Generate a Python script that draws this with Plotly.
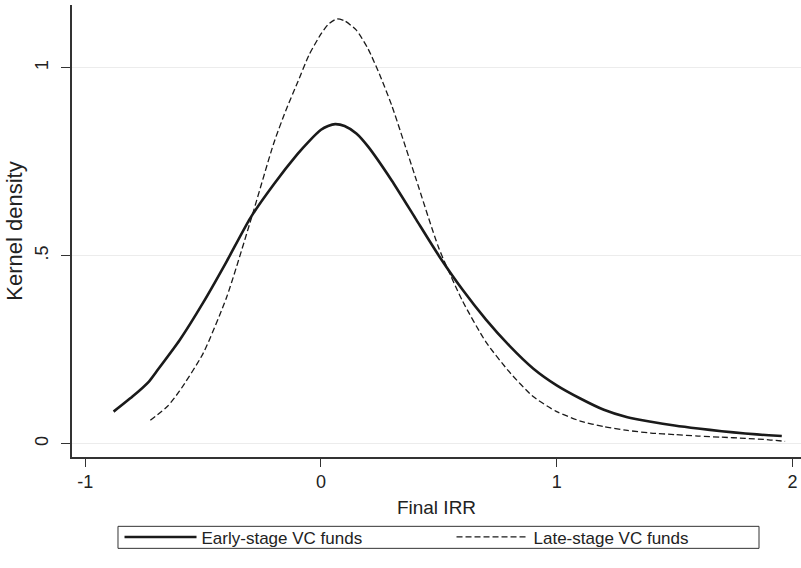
import plotly.graph_objects as go

# Early-stage VC funds (solid)
early_x = [-0.88, -0.80, -0.73, -0.70, -0.60, -0.50, -0.40, -0.30, -0.20, -0.10,
           -0.05, 0.00, 0.03, 0.06, 0.10, 0.15, 0.20, 0.30, 0.40, 0.50, 0.60, 0.70, 0.80,
           0.90, 1.00, 1.10, 1.20, 1.30, 1.40, 1.50, 1.60, 1.70, 1.80, 1.90, 1.955]
early_y = [0.085, 0.125, 0.165, 0.19, 0.275, 0.375, 0.485, 0.60, 0.69, 0.77,
           0.805, 0.835, 0.845, 0.85, 0.845, 0.825, 0.79, 0.70, 0.60, 0.50, 0.41, 0.33, 0.26,
           0.20, 0.155, 0.12, 0.09, 0.07, 0.058, 0.048, 0.040, 0.033, 0.027, 0.022, 0.020]

# Late-stage VC funds (dashed)
late_x = [-0.724, -0.65, -0.60, -0.50, -0.40, -0.30, -0.20, -0.15, -0.10, -0.05, 0.00, 0.03, 0.067,
          0.10, 0.15, 0.20, 0.25, 0.30, 0.40, 0.50, 0.60, 0.70, 0.80, 0.90, 1.00,
          1.10, 1.20, 1.30, 1.40, 1.50, 1.60, 1.70, 1.80, 1.90, 1.969]
late_y = [0.062, 0.10, 0.14, 0.24, 0.39, 0.59, 0.80, 0.885, 0.96, 1.035, 1.09, 1.115, 1.13,
          1.125, 1.10, 1.05, 0.98, 0.90, 0.71, 0.52, 0.38, 0.27, 0.19, 0.125, 0.085,
          0.06, 0.045, 0.035, 0.028, 0.024, 0.020, 0.017, 0.014, 0.010, 0.006]

x_ticks = [-1, 0, 1, 2]
x_ticktext = ["-1", "0", "1", "2"]
y_ticks = [0, 0.5, 1]
y_ticktext = ["0", ".5", "1"]

FONT = "Liberation Sans, Arial, Helvetica, sans-serif"

fig = go.Figure()
fig.add_trace(go.Scatter(x=early_x, y=early_y, mode="lines", name="Early-stage VC funds",
                         line=dict(color="#1a1a1a", width=2.6, shape="spline", smoothing=0.6)))
fig.add_trace(go.Scatter(x=late_x, y=late_y, mode="lines", name="Late-stage VC funds",
                         line=dict(color="#1a1a1a", width=1.3, dash="6px,3px",
                                   shape="spline", smoothing=0.6)))

# legend frame
fig.add_shape(type="rect", xref="paper", yref="paper",
              x0=0.0631, x1=0.9424, y0=-0.2021, y1=-0.1534,
              line=dict(color="#333", width=1), fillcolor="rgba(0,0,0,0)", layer="above")

fig.update_layout(
    width=801, height=568,
    margin=dict(l=72, r=0, t=5, b=111, pad=0),
    paper_bgcolor="white", plot_bgcolor="white",
    font=dict(family=FONT, size=18, color="#222"),
    showlegend=True,
    legend=dict(orientation="h", x=0.5206, xanchor="center", y=-0.138, yanchor="top",
                bgcolor="rgba(0,0,0,0)", borderwidth=0, entrywidth=245,
                font=dict(size=17), itemwidth=72),
    xaxis=dict(range=[-1.0564, 2.0365], tickvals=x_ticks, ticktext=x_ticktext,
               showline=True, linecolor="#333", linewidth=1.5, ticks="outside",
               ticklen=8, tickcolor="#333", showgrid=False, zeroline=False,
               automargin=False,
               title=dict(text="Final IRR", standoff=9, font=dict(size=19))),
    yaxis=dict(range=[-0.0357, 1.167], tickvals=y_ticks, ticktext=y_ticktext,
               showline=True, linecolor="#333", linewidth=1.5, ticks="outside",
               ticklen=9, tickcolor="#333", tickangle=-90, ticklabelstandoff=6,
               showgrid=True, gridcolor="#ececec", gridwidth=1, zeroline=False,
               automargin=False,
               title=dict(text="Kernel density", standoff=3, font=dict(size=22))),
)

fig.write_html("out.html", config={"displayModeBar": False},
               post_script="document.body.style.margin='0';document.body.style.padding='0';")
